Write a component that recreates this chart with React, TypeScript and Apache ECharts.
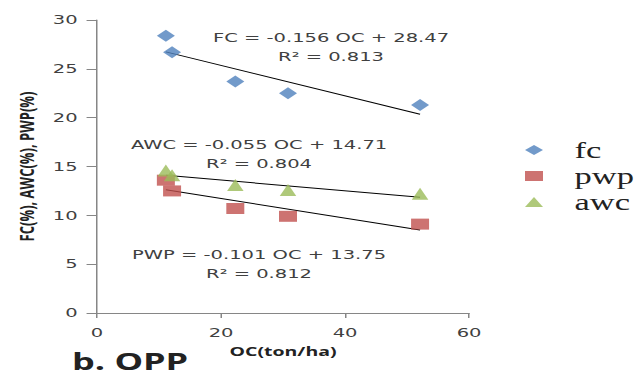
import React, { useEffect, useRef } from "react";
import * as echarts from "echarts";

// OC (ton/ha) values shared by all three series
const ocValues = [11.1, 12.1, 22.3, 30.8, 52.1];
const fcValues = [28.4, 26.7, 23.7, 22.5, 21.3];
const pwpValues = [13.6, 12.5, 10.7, 9.9, 9.1];
const awcValues = [14.6, 14.1, 13.1, 12.6, 12.2];

// regression lines printed on the chart: [slope, intercept]
const fcFit = [-0.156, 28.47];
const awcFit = [-0.055, 14.71];
const pwpFit = [-0.101, 13.75];

const fcLabel = "FC = -0.156 OC + 28.47\nR² = 0.813";
const awcLabel = "AWC = -0.055 OC + 14.71\nR² = 0.804";
const pwpLabel = "PWP = -0.101 OC + 13.75\nR² = 0.812";

const yTicks = [0, 5, 10, 15, 20, 25, 30];
const xTicks = [0, 20, 40, 60];

const STRETCH = 1.5;
const W = 639 / STRETCH;
const H = 377;

function fitLine(fit: number[]) {
  const x0 = Math.min(...ocValues);
  const x1 = Math.max(...ocValues);
  return [
    [x0, fit[0] * x0 + fit[1]],
    [x1, fit[0] * x1 + fit[1]],
  ];
}

const pts = (ys: number[]) => ocValues.map((x, i) => [x, ys[i]]);

export default function App() {
  const ref = useRef<HTMLDivElement>(null);
  useEffect(() => {
    if (!ref.current) return;
    const chart = echarts.init(ref.current, undefined, { renderer: "svg", width: W, height: H });
    const textColor = "#404040";
    const axisColor = "#868686";
    const annot = (txt: string, x: number, y: number) => ({
      type: "text",
      x,
      y,
      style: {
        text: txt,
        fill: textColor,
        font: "13px 'DejaVu Sans'",
        align: "center",
        verticalAlign: "middle",
        lineHeight: 19,
      },
    });
    const trend = (fit: number[]) => ({
      type: "line",
      data: fitLine(fit),
      showSymbol: false,
      symbol: "none",
      lineStyle: { color: "#000", width: 1 },
      silent: true,
      z: 1,
      legendHoverLink: false,
    });
    chart.setOption({
      animation: false,
      grid: { left: 64.7, right: W - 312.7, top: 20, bottom: H - 313 },
      xAxis: {
        type: "value",
        min: xTicks[0],
        max: xTicks[xTicks.length - 1],
        interval: 20,
        name: "OC(ton/ha)",
        nameLocation: "middle",
        nameGap: 30,
        nameTextStyle: { fontFamily: "Open Sans", fontWeight: "bold", fontSize: 13, color: "#222" },
        axisLine: { onZero: false, lineStyle: { color: axisColor } },
        axisTick: { show: true, length: 5, lineStyle: { color: axisColor } },
        axisLabel: { margin: 13, fontFamily: "DejaVu Sans", fontSize: 13, color: textColor },
        splitLine: { show: false },
      },
      yAxis: {
        type: "value",
        min: yTicks[0],
        max: yTicks[yTicks.length - 1],
        interval: 5,
        name: "FC(%), AWC(%), PWP(%)",
        nameLocation: "middle",
        nameGap: 35,
        nameTextStyle: { fontFamily: "Open Sans", fontWeight: "bold", fontSize: 13, color: "#222" },
        axisLine: { show: true, lineStyle: { color: axisColor } },
        axisTick: { show: true, length: 7, lineStyle: { color: axisColor } },
        axisLabel: { margin: 13, fontFamily: "DejaVu Sans", fontSize: 13, color: textColor },
        splitLine: { show: false },
      },
      legend: {
        orient: "vertical",
        left: 345,
        top: 133,
        itemWidth: 12,
        itemHeight: 10,
        itemGap: 2,
        data: [
          { name: "fc", icon: "diamond" },
          { name: "pwp", icon: "rect" },
          { name: "awc", icon: "triangle" },
        ],
        textStyle: {
          fontFamily: "Liberation Serif",
          fontSize: 23,
          color: "#222",
          lineHeight: 24,
          padding: [0, 0, 0, 16],
        },
      },
      graphic: [
        annot(fcLabel, 220.7, 47),
        annot(awcLabel, 172.7, 154),
        annot(pwpLabel, 172.7, 264),
        {
          type: "text",
          x: 48,
          y: 361,
          style: {
            text: "b. OPP",
            fill: "#222",
            font: "bold 24px 'Open Sans'",
            align: "left",
            verticalAlign: "middle",
          },
        },
      ],
      series: [
        trend(fcFit),
        trend(awcFit),
        trend(pwpFit),
        {
          name: "fc",
          type: "scatter",
          data: pts(fcValues),
          symbol: "diamond",
          symbolSize: [12, 12],
          itemStyle: { color: "#4F81BD" },
          z: 3,
        },
        {
          name: "pwp",
          type: "scatter",
          data: pts(pwpValues),
          symbol: "rect",
          symbolSize: [12, 11],
          itemStyle: { color: "#C0504D" },
          z: 3,
        },
        {
          name: "awc",
          type: "scatter",
          data: pts(awcValues),
          symbol: "triangle",
          symbolSize: [11, 12],
          itemStyle: { color: "#9BBB59" },
          z: 4,
        },
      ],
    });
    return () => chart.dispose();
  }, []);
  return (
    <div
      ref={ref}
      style={{
        position: "fixed",
        left: 0,
        top: 0,
        width: W,
        height: H,
        transform: `scaleX(${STRETCH})`,
        transformOrigin: "0 0",
        background: "#fff",
      }}
    />
  );
}
